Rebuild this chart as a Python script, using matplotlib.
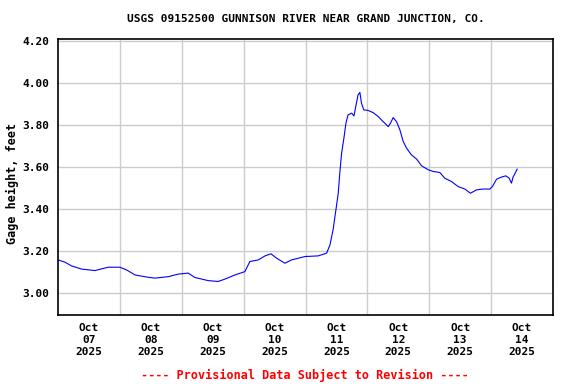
import matplotlib
matplotlib.use("Agg")
import matplotlib.pyplot as plt
import matplotlib.dates as mdates
from matplotlib.ticker import FixedLocator, NullFormatter
import datetime as dt

title = "USGS 09152500 GUNNISON RIVER NEAR GRAND JUNCTION, CO."
ylabel = "Gage height, feet"
footer = "---- Provisional Data Subject to Revision ----"

# hours since 2025-10-07 00:00
hours = [0.0, 2.7, 5.3, 9.2, 14.3, 19.5, 24.0, 26.6, 29.9, 35.0, 37.6, 42.8,
         46.6, 50.5, 53.1, 58.3, 62.1, 64.7, 68.6, 72.5, 74.4, 77.7, 80.3,
         82.6, 84.8, 88.0, 90.6, 95.8, 100.9, 104.2, 105.5, 106.7, 107.8,
         108.7, 109.3, 110.0, 110.9, 111.7, 112.5, 113.9, 114.8, 115.5,
         116.4, 117.1, 117.7, 118.6, 120.3, 122.2, 124.2, 126.1, 128.1,
         129.0, 130.0, 131.3, 132.6, 133.9, 135.2, 137.1, 139.1, 141.0,
         143.6, 145.5, 148.1, 150.0, 152.6, 155.2, 157.8, 160.0, 162.3,
         164.9, 167.5, 168.5, 170.1, 172.0, 173.7, 175.0, 175.9, 176.5,
         177.2, 178.1]
gage = [3.156, 3.145, 3.127, 3.112, 3.105, 3.121, 3.121, 3.108, 3.084, 3.073,
        3.069, 3.076, 3.088, 3.093, 3.072, 3.057, 3.053, 3.064, 3.084, 3.100,
        3.148, 3.156, 3.175, 3.185, 3.164, 3.140, 3.156, 3.172, 3.175, 3.188,
        3.228, 3.300, 3.395, 3.474, 3.570, 3.665, 3.737, 3.809, 3.848, 3.856,
        3.843, 3.888, 3.944, 3.955, 3.904, 3.872, 3.869, 3.859, 3.840, 3.816,
        3.792, 3.809, 3.835, 3.816, 3.777, 3.721, 3.689, 3.657, 3.637, 3.605,
        3.586, 3.578, 3.573, 3.546, 3.530, 3.506, 3.494, 3.474, 3.490, 3.494,
        3.494, 3.506, 3.541, 3.551, 3.557, 3.546, 3.522, 3.551, 3.567, 3.589]

day_labels = ["Oct\n07\n2025", "Oct\n08\n2025", "Oct\n09\n2025", "Oct\n10\n2025",
              "Oct\n11\n2025", "Oct\n12\n2025", "Oct\n13\n2025", "Oct\n14\n2025"]
yticks = [3.00, 3.20, 3.40, 3.60, 3.80, 4.00, 4.20]

start = dt.datetime(2025, 10, 7)
times = [start + dt.timedelta(hours=h) for h in hours]

font = "DejaVu Sans Mono"
plt.rcParams["font.family"] = font
plt.rcParams["font.weight"] = "bold"

fig = plt.figure(figsize=(5.76, 3.84), dpi=100)
ax = fig.add_axes([58/576, 69/384, 495/576, 276/384])

ax.plot(mdates.date2num(times), gage, color="#0000ff", lw=0.8)

x0 = mdates.date2num(start)
ax.set_xlim(x0, x0 + 8)
ax.set_ylim(2.893, 4.21)

mid = [x0 + i for i in range(1, 8)]
noon = [x0 + i + 0.5 for i in range(8)]
ax.xaxis.set_major_locator(FixedLocator(mid))
ax.xaxis.set_major_formatter(NullFormatter())
ax.set_xticks(noon, minor=True)
ax.set_xticklabels(day_labels, minor=True, fontsize=8, fontweight="bold",
                   linespacing=1.25)
ax.tick_params(axis="x", which="both", length=0, pad=6)

ax.set_yticks(yticks)
ax.set_yticklabels([f"{v:.2f}" for v in yticks], fontsize=8, fontweight="bold")
ax.tick_params(axis="y", length=0, pad=6)

ax.grid(True, which="major", color="#cccccc", lw=1.0)
ax.set_axisbelow(True)
for s in ax.spines.values():
    s.set_linewidth(1.2)
    s.set_color("black")

fig.text(12/576, 1 - 183/384, ylabel, rotation=90, ha="center", va="center",
         fontsize=8.5, fontweight="bold")
fig.text(305.5/576, 1 - 19/384, title, ha="center", va="center",
         fontsize=8, fontweight="bold")
fig.text(305/576, 1 - 375/384, footer, ha="center", va="center",
         fontsize=8.5, fontweight="bold", color="red")

fig.savefig("out.png", dpi=100)
